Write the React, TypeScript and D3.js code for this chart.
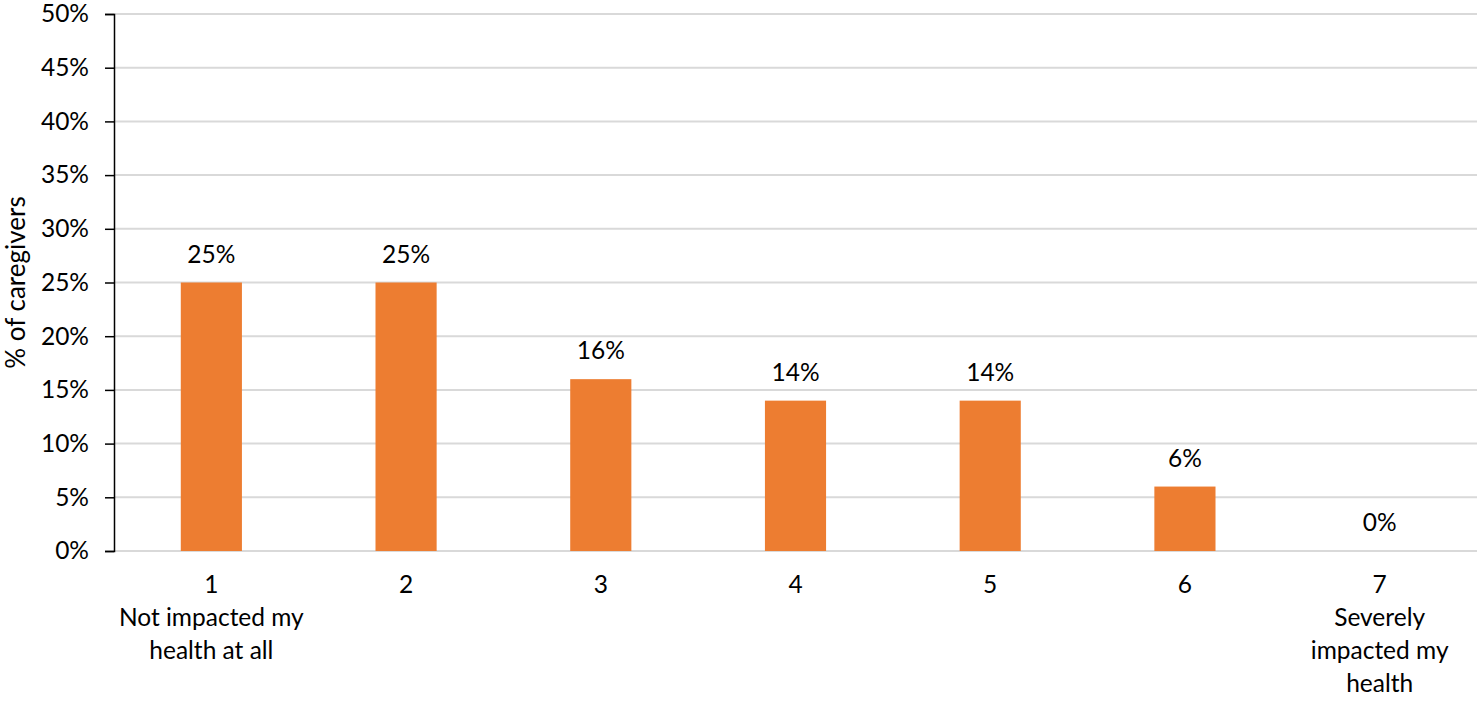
import React, { useEffect, useRef } from "react";
import * as d3 from "d3";

const categories = ["1", "2", "3", "4", "5", "6", "7"];
const subLabels = [
  ["Not impacted my", "health at all"],
  [],
  [],
  [],
  [],
  [],
  ["Severely", "impacted my", "health"],
];
const values = [25, 25, 16, 14, 14, 6, 0];
const yTicks = [0, 5, 10, 15, 20, 25, 30, 35, 40, 45, 50];

const width = 1477;
const height = 703;
const margin = { top: 14, right: 0, bottom: 152, left: 114 };
const font = "Lato, 'Open Sans', sans-serif";
const fs = 24.5;

export default function App() {
  const ref = useRef<SVGSVGElement>(null);

  useEffect(() => {
    const svg = d3.select(ref.current);
    svg.selectAll("*").remove();

    const x = d3
      .scaleBand()
      .domain(categories)
      .range([margin.left, width - margin.right])
      .paddingInner(0.686)
      .paddingOuter(0.343);
    const y = d3
      .scaleLinear()
      .domain([0, 50])
      .range([height - margin.bottom, margin.top]);

    // gridlines
    svg
      .append("g")
      .selectAll("line")
      .data(yTicks)
      .join("line")
      .attr("x1", margin.left)
      .attr("x2", width - margin.right)
      .attr("y1", (d) => y(d))
      .attr("y2", (d) => y(d))
      .attr("stroke", "#d9d9d9")
      .attr("stroke-width", 2);

    // bars
    svg
      .append("g")
      .selectAll("rect")
      .data(values)
      .join("rect")
      .attr("x", (d, i) => x(categories[i])!)
      .attr("width", x.bandwidth())
      .attr("y", (d) => y(d))
      .attr("height", (d) => y(0) - y(d))
      .attr("fill", "#ED7D31");

    // data labels
    svg
      .append("g")
      .selectAll("text")
      .data(values)
      .join("text")
      .attr("x", (d, i) => x(categories[i])! + x.bandwidth() / 2)
      .attr("y", (d) => y(d) - 20)
      .attr("text-anchor", "middle")
      .attr("font-family", font)
      .attr("font-size", fs)
      .attr("fill", "#000")
      .text((d) => d + "%");

    // y axis
    const yAxis = d3
      .axisLeft(y)
      .tickValues(yTicks)
      .tickSize(9)
      .tickPadding(16)
      .tickFormat((d) => d + "%");
    const gy = svg
      .append("g")
      .attr("transform", `translate(${margin.left},0)`)
      .call(yAxis);
    gy.select(".domain").attr("stroke", "#000").attr("stroke-width", 1.5);
    gy.selectAll(".tick line").attr("stroke", "#000").attr("stroke-width", 1.5);
    gy.selectAll(".tick text")
      .attr("font-family", font)
      .attr("font-size", fs)
      .attr("fill", "#000");

    // x labels
    const gx = svg.append("g");
    categories.forEach((c, i) => {
      const cx = x(c)! + x.bandwidth() / 2;
      const lines = [c, ...subLabels[i]];
      gx.append("text")
        .attr("x", cx)
        .attr("y", y(0) + 42)
        .attr("text-anchor", "middle")
        .attr("font-family", font)
        .attr("font-size", fs)
        .attr("fill", "#000")
        .selectAll("tspan")
        .data(lines)
        .join("tspan")
        .attr("x", cx)
        .attr("dy", (d, j) => (j === 0 ? 0 : 33))
        .text((d) => d);
    });

    // y title
    svg
      .append("text")
      .attr("transform", `translate(25,${(y(0) + y(50)) / 2}) rotate(-90)`)
      .attr("text-anchor", "middle")
      .attr("font-family", font)
      .attr("font-size", 26)
      .attr("fill", "#000")
      .text("% of caregivers");
  }, []);

  return (
    <div style={{ position: "absolute", left: 0, top: 0 }}>
      <svg ref={ref} width={width} height={height} style={{ display: "block" }} />
    </div>
  );
}
